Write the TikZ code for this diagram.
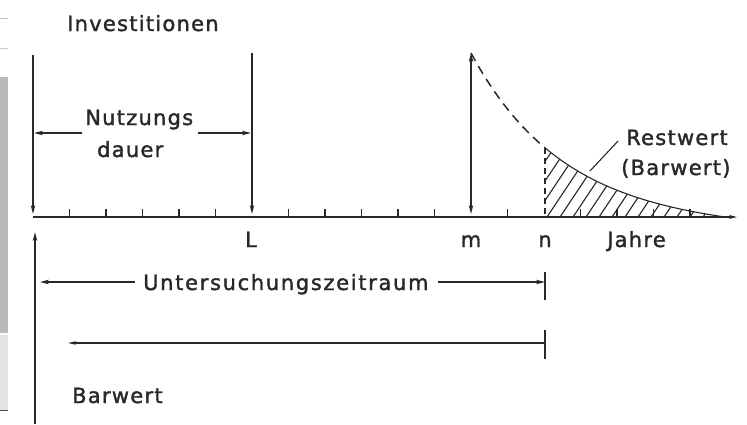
\documentclass[tikz,border=0pt]{standalone}
\usepackage{fontspec}
\setmainfont[LetterSpace=6,FakeBold=1.6]{DejaVu Sans}
\newfontfamily\widefont[LetterSpace=8,FakeBold=1.6]{DejaVu Sans}
\usetikzlibrary{arrows.meta}
\definecolor{ink}{RGB}{40,40,40}
\tikzset{
  ln/.style={draw=ink, line width=1.5pt},
  thin ln/.style={draw=ink, line width=1.1pt},
  arr/.style={ln, -{Stealth[length=9pt,width=4.5pt]}},
  lbl/.style={inner sep=0pt, anchor=base west, text=ink, font=\fontsize{21}{24}\selectfont},
  lblc/.style={lbl, anchor=base},
}
\begin{document}
\begin{tikzpicture}[x=1pt, y=-1pt]
\useasboundingbox (0,0) rectangle (747,424);
% left screenshot strip
\fill[gray!55] (0,77) rectangle (8,333);
\fill[black!15!yellow!8!gray!25] (0,335) rectangle (8,410);
\draw[gray!50, line width=0.8pt] (0,18) -- (8,18);
\draw[gray!40, line width=0.8pt] (0,48) -- (8,48);
\draw[black!70, line width=1pt] (0,410) -- (8,410);

% coordinates
\coordinate (O) at (33,217);
\coordinate (E) at (737,217);
\coordinate (a1t) at (33,55);
\coordinate (a1b) at (33,214);
\coordinate (Lt) at (252,53);
\coordinate (Lb) at (252,214);
\coordinate (mt) at (471,53);
\coordinate (mb) at (471,214);
\coordinate (nb) at (545,217);
\coordinate (nt) at (545,148);

% axis
\draw[ln, -{Stealth[length=8pt,width=4pt]}] (O) -- (E);
\foreach \k in {1,...,5,7,8,...,11,13,15,16,17,18} {
  \draw[thin ln] ({33+36.5*\k},217) -- ({33+36.5*\k},209);
}

% investment arrows
\draw[arr] (a1t) -- (a1b);
\draw[arr] (Lt) -- (Lb);
\draw[ln, {Stealth[length=9pt,width=4.5pt]}-{Stealth[length=9pt,width=4.5pt]}] (mt) -- (mb);

% decay curve
\draw[ln, dash pattern=on 9pt off 6pt] plot[domain=471:545, samples=40]
  (\x, {217-164*(exp(-(\x-471)/90)-0.0595*(\x-471)/254)});
\draw[thin ln, dash pattern=on 6pt off 4pt] (nt) -- (nb);
\begin{scope}
  \clip (545,217) -- plot[domain=545:725, samples=50]
    (\x, {217-164*(exp(-(\x-471)/90)-0.0595*(\x-471)/254)}) -- cycle;
  \foreach \s in {495,508,...,740} {
    \draw[thin ln] (\s,217) -- ({\s+48},145);
  }
\end{scope}
\draw[thin ln] plot[domain=545:725, samples=50]
  (\x, {217-164*(exp(-(\x-471)/90)-0.0595*(\x-471)/254)});

% Restwert
\node[lbl] (rw) at (626,145) {Restwert};
\node[lbl] (bw) at (621,175) {(Barwert)};
\coordinate (lead1) at (590,171);
\coordinate (lead2) at (618,141);
\draw[thin ln] (lead1) -- (lead2);

% labels top
\node[lbl] (inv) at (67,31) {Investitionen};
\node[lbl] (nutz) at (85,125) {Nutzungs};
\node[lbl] (dauer) at (97,157) {dauer};
\coordinate (nd1) at (82,133);
\coordinate (nd2) at (198,133);
\draw[arr] (nd1) -- (34,133);
\draw[arr] (nd2) -- (251,133);

% axis labels
\node[lblc] (lL) at (251,247) {L};
\node[lblc] (lm) at (471,247) {m};
\node[lblc] (ln) at (545,247) {n};
\node[lbl] (jahre) at (607,247) {Jahre};

% Untersuchungszeitraum
\node[lbl, font=\widefont\fontsize{21}{24}\selectfont] (uz) at (143,290) {Untersuchungszeitraum};
\coordinate (uzL) at (40,282);
\coordinate (uzR) at (545,282);
\draw[arr] (135,282) -- (uzL);
\draw[arr] (438,282) -- (uzR);
\draw[ln] (545,272) -- (545,300);

% Barwert line
\coordinate (bwL) at (68,343);
\coordinate (bwR) at (545,343);
\draw[ln, {Stealth[length=8pt,width=3.5pt]}-] (bwL) -- (bwR);
\draw[ln] (545,330) -- (545,359);

% upward arrow
\coordinate (up1) at (35,424);
\coordinate (up2) at (35,232);
\draw[arr] (up1) -- (up2);
\node[lbl] (barw) at (72,403) {Barwert};
\end{tikzpicture}
\end{document}
